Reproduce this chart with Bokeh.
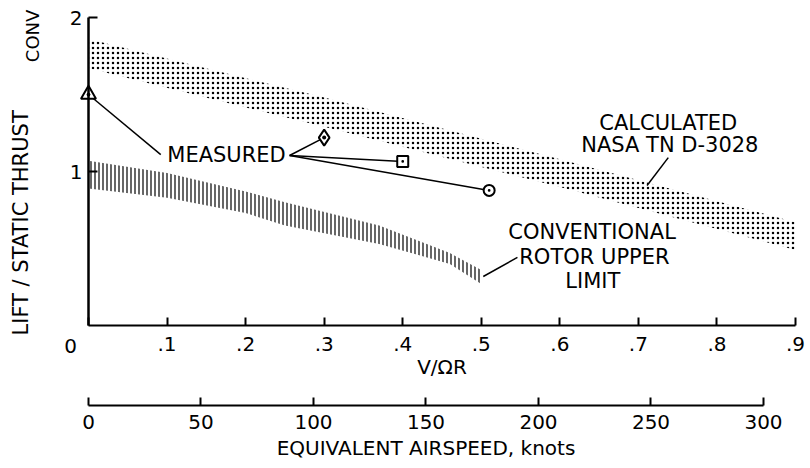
from math import pi
from bokeh.plotting import figure
from bokeh.models import Range1d, LinearAxis, FixedTicker, Label, ColumnDataSource
from bokeh.embed import file_html
from bokeh.resources import INLINE

# ---------------- data ----------------
# Calculated band (NASA TN D-3028)
calc_v = [0.0, 0.3, 0.6, 0.9]
calc_upper = [1.86, 1.48, 1.08, 0.67]
calc_lower = [1.67, 1.29, 0.90, 0.49]

# Conventional rotor upper limit band
conv_v = [0.0, 0.1, 0.2, 0.25, 0.37, 0.46, 0.5]
conv_upper = [1.07, 0.99, 0.87, 0.80, 0.65, 0.47, 0.36]
conv_lower = [0.89, 0.83, 0.73, 0.65, 0.53, 0.40, 0.27]

# Measured points
meas_v = [0.0, 0.30, 0.40, 0.51]
meas_ratio = [1.50, 1.22, 1.065, 0.877]
meas_marker = ["triangle_dot", "diamond_dot", "square_dot", "circle_dot"]
meas_size = [15, 16, 11, 11]

# Axes
x_ticks = [0, 0.1, 0.2, 0.3, 0.4, 0.5, 0.6, 0.7, 0.8, 0.9]
x_tick_labels = ["", ".1", ".2", ".3", ".4", ".5", ".6", ".7", ".8", ".9"]
y_ticks = [1, 2]
y_tick_labels = ["1", "2"]
knot_ticks = [0, 50, 100, 150, 200, 250, 300]
knot_tick_labels = ["0", "50", "100", "150", "200", "250", "300"]

FONT = "DejaVu Sans"
FS = "20px"
TFS = "21px"

# frame covers the whole canvas; axes are placed at fixed locations inside it
p = figure(width=808, height=466,
           x_range=Range1d(-0.1120, 0.9165), y_range=Range1d(-0.9156, 2.1104),
           x_axis_type=None, y_axis_type=None,
           output_backend="svg", toolbar_location=None,
           min_border_left=0, min_border_right=0, min_border_top=0, min_border_bottom=0)
p.outline_line_color = None
p.grid.visible = False
p.background_fill_color = "white"
p.border_fill_color = "white"
p.extra_x_ranges = {"knots": Range1d(-39.11, 320.0)}

# bands
p.varea(x=calc_v, y1=calc_lower, y2=calc_upper, fill_color=None, fill_alpha=0,
        hatch_pattern="dot", hatch_scale=5, hatch_color="black", hatch_weight=0.9)
p.varea(x=conv_v, y1=conv_lower, y2=conv_upper, fill_color=None, fill_alpha=0,
        hatch_pattern="vertical_line", hatch_scale=4, hatch_color="black", hatch_weight=1.2)

# leader lines for MEASURED
meas_left = (0.092, 1.11)
meas_right = (0.256, 1.104)
p.segment(x0=[meas_left[0]], y0=[meas_left[1]], x1=meas_v[:1], y1=meas_ratio[:1],
          line_color="black", line_width=1.5)
p.segment(x0=[meas_right[0]] * 3, y0=[meas_right[1]] * 3, x1=meas_v[1:], y1=meas_ratio[1:],
          line_color="black", line_width=1.5)
# other leaders
p.segment(x0=[0.738], y0=[1.09], x1=[0.711], y1=[0.909], line_color="black", line_width=1.5)
p.segment(x0=[0.546], y0=[0.442], x1=[0.5025], y1=[0.318], line_color="black", line_width=1.5)

src = ColumnDataSource(dict(x=meas_v, y=meas_ratio, m=meas_marker, s=meas_size))
p.scatter("x", "y", marker="m", size="s", source=src, fill_color="white",
          line_color="black", line_width=2)


def lab(x, y, t, size=TFS, **kw):
    p.add_layout(Label(x=x, y=y, text=t, text_font=FONT, text_font_size=size,
                       text_color="black", text_align=kw.pop("align", "center"),
                       text_baseline=kw.pop("baseline", "middle"), **kw))


lab(0.1757, 1.104, "MEASURED")
lab(0.738, 1.318, "CALCULATED")
lab(0.740, 1.169, "NASA TN D-3028")
lab(0.641, 0.604, "CONVENTIONAL")
lab(0.644, 0.448, "ROTOR UPPER")
lab(0.642, 0.292, "LIMIT")
lab(-0.0229, -0.13, "0", size=FS)
lab(-0.0853, -0.065, "LIFT / STATIC THRUST", align="left", angle=pi / 2)
lab(-0.0718, 1.71, "CONV", size="18px", align="left", angle=pi / 2)


def style(ax, standoff, label_standoff):
    ax.major_tick_in = 8
    ax.major_tick_out = 0
    ax.minor_tick_line_color = None
    ax.axis_line_color = "black"
    ax.axis_line_width = 2
    ax.major_tick_line_color = "black"
    ax.major_tick_line_width = 2
    ax.major_label_text_font = FONT
    ax.major_label_text_font_size = FS
    ax.major_label_text_color = "black"
    ax.major_label_standoff = standoff
    ax.axis_label_text_font = FONT
    ax.axis_label_text_font_size = FS
    ax.axis_label_text_font_style = "normal"
    ax.axis_label_text_color = "black"
    ax.axis_label_standoff = label_standoff


# main x axis
xa = LinearAxis(fixed_location=0, bounds=(0, 0.9), ticker=FixedTicker(ticks=x_ticks),
                axis_label="V/ΩR")
xa.major_label_overrides = dict(zip(x_ticks, x_tick_labels))
style(xa, 12, 0)
p.add_layout(xa, "below")

# y axis
ya = LinearAxis(fixed_location=0, bounds=(0, 2), ticker=FixedTicker(ticks=y_ticks))
ya.major_label_overrides = dict(zip(y_ticks, y_tick_labels))
style(ya, 6, 0)
ya.major_tick_in = 9
ya.axis_line_width = 2.5
ya.major_label_orientation = "horizontal"
p.add_layout(ya, "left")

# knots axis
knots_axis_y = -0.519
ka = LinearAxis(x_range_name="knots", fixed_location=knots_axis_y, bounds=(0, 300),
                ticker=FixedTicker(ticks=knot_ticks), axis_label="EQUIVALENT AIRSPEED, knots")
ka.major_label_overrides = dict(zip(knot_ticks, knot_tick_labels))
style(ka, 10, 3)
p.add_layout(ka, "below")

open("out.html", "w").write(file_html(p, INLINE))
